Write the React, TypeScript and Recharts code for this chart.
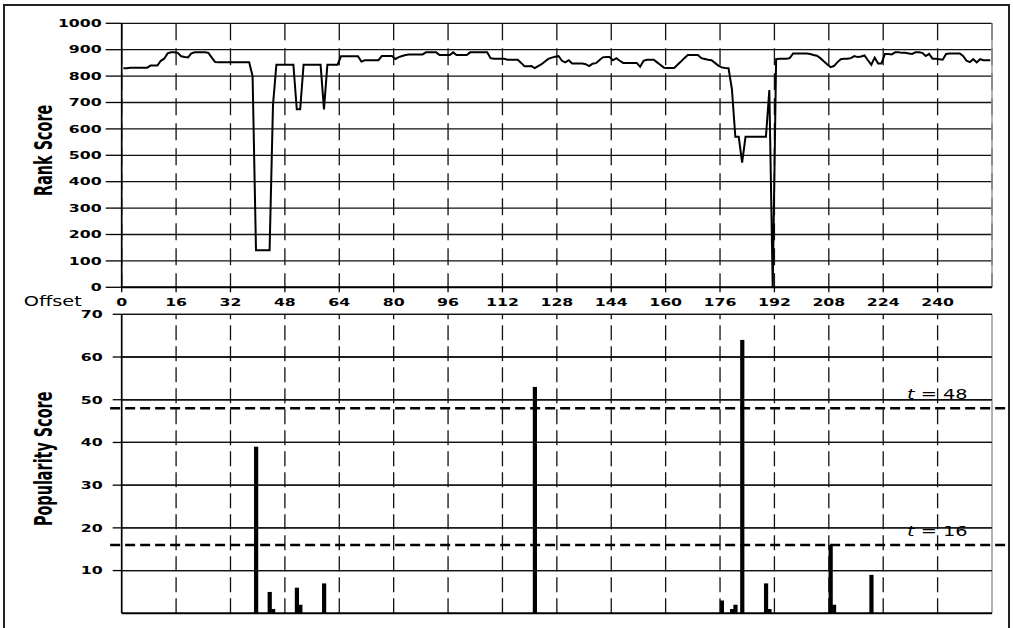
import React from "react";
import { LineChart, Line, ComposedChart, Bar, XAxis, YAxis, CartesianGrid, ReferenceLine } from "recharts";

const offsetTicks = [0, 16, 32, 48, 64, 80, 96, 112, 128, 144, 160, 176, 192, 208, 224, 240];
const rankTicks = [0, 100, 200, 300, 400, 500, 600, 700, 800, 900, 1000];
const popularityTicks = [10, 20, 30, 40, 50, 60, 70];
const popularityGrid = [10, 20, 30, 40, 50, 60, 70];
const thresholds = [48, 16];

// rank score per offset 0..255
const rankScore = [
  830, 830, 832, 832, 832, 832, 832, 832, 840, 840,
  840, 858, 866, 886, 890, 890, 888, 875, 872, 871,
  886, 890, 890, 890, 890, 888, 870, 853, 852, 852,
  852, 852, 852, 852, 852, 852, 852, 852, 800, 140,
  140, 140, 140, 140, 690, 843, 843, 843, 843, 843,
  843, 674, 674, 843, 843, 843, 843, 843, 843, 674,
  843, 843, 843, 843, 875, 875, 875, 875, 875, 875,
  855, 860, 860, 860, 860, 860, 876, 876, 876, 876,
  865, 872, 876, 880, 882, 882, 882, 882, 882, 890,
  890, 890, 890, 880, 880, 880, 880, 890, 880, 880,
  880, 880, 890, 890, 890, 890, 890, 890, 868, 866,
  866, 866, 866, 862, 862, 862, 862, 850, 837, 837,
  838, 830, 838, 845, 855, 865, 870, 873, 876, 858,
  852, 860, 848, 848, 848, 848, 845, 838, 847, 849,
  860, 871, 872, 872, 860, 868, 858, 850, 850, 850,
  850, 850, 835, 858, 862, 862, 862, 852, 842, 832,
  831, 831, 831, 843, 855, 868, 880, 880, 880, 880,
  868, 865, 862, 860, 850, 840, 833, 831, 830, 750,
  570, 570, 472, 570, 570, 570, 570, 570, 570, 570,
  747, 0, 864, 866, 866, 866, 868, 886, 886, 886,
  886, 886, 884, 880, 877, 868, 856, 845, 834, 838,
  852, 864, 866, 866, 868, 876, 872, 874, 878, 860,
  843, 870, 848, 848, 884, 884, 882, 890, 890, 888,
  888, 886, 884, 890, 890, 888, 876, 884, 866, 866,
  864, 862, 884, 886, 886, 886, 886, 876, 858, 853,
  864, 852, 864, 860, 860, 860,
];

const popularityOffsets = [39, 43, 44, 51, 52, 59, 121, 176, 179, 180, 182, 189, 190, 208, 209, 220];
const popularityScore = [39, 5, 1, 6, 2, 7, 53, 3, 1, 2, 64, 7, 1, 16, 2, 9];

// each offset sits in the middle of its slot, like the original spreadsheet plot
const rankRows = rankScore.map((score, i) => ({ x: i + 0.5, score }));
const popRows = popularityOffsets.map((o, i) => ({ x: o + 0.5, score: popularityScore[i] }));

const FONT = "'DejaVu Sans', Verdana, sans-serif";
const WIDE = 1.5;

function YTick(props: any) {
  const { x, y, payload } = props;
  return (
    <text transform={`translate(${x},${y}) scale(${WIDE},1)`} textAnchor="end" dy="0.36em"
      fontFamily={FONT} fontSize={10.5} fontWeight="bold" fill="#000">
      {payload.value}
    </text>
  );
}

function XTick(props: any) {
  const { x, y, payload } = props;
  return (
    <text transform={`translate(${x},${y}) scale(${WIDE},1)`} textAnchor="middle" dy="0.73em"
      fontFamily={FONT} fontSize={10.5} fontWeight="bold" fill="#000">
      {payload.value}
    </text>
  );
}

function NoTick() {
  return <g />;
}

function axisTitle(text: string) {
  return (p: any) => {
    const vb = p.viewBox;
    const cy = vb.y + vb.height / 2 - 5;
    return (
      <text transform={`translate(${43},${cy}) rotate(-90) scale(1,1.55)`} textAnchor="middle" dy="0.36em"
        fontFamily={FONT} fontStretch="condensed" fontSize={16} fontWeight="bold" fill="#000">
        {text}
      </text>
    );
  };
}

function offsetLabel(p: any) {
  const vb = p.viewBox;
  return (
    <text transform={`translate(${vb.x - 69},${vb.y + 18.5}) scale(1.38,1)`} textAnchor="middle"
      fontFamily={FONT} fontSize={14} fill="#000">
      Offset
    </text>
  );
}

function gridShape(p: any) {
  return (
    <g>
      <line x1={p.x1} y1={p.y1} x2={p.x2} y2={p.y2} stroke="#111" strokeWidth={1.3} />
    </g>
  );
}

function thresholdShape(t: number) {
  return (p: any) => (
    <g>
      <line x1={p.x1} y1={p.y1} x2={p.x2} y2={p.y2} stroke="#000" strokeWidth={2.5} strokeDasharray="10 5" />
      <text transform={`translate(${p.x2 - 101},${p.y1 - 9}) scale(1.38,1)`} fontFamily={FONT} fontSize={14} fill="#000">
        <tspan fontStyle="italic">t</tspan> = {t}
      </text>
    </g>
  );
}

function PopBar(p: any) {
  if (!p.height) return <g />;
  return <rect x={p.x + p.width / 2 - 2.1} y={p.y} width={4.2} height={p.height} fill="#000" />;
}

export default function App() {
  return (
    <div style={{ position: "relative", width: 1013, height: 628, overflow: "hidden", background: "#fff" }}>
      <style>{"body{margin:0}"}</style>
      <div style={{ position: "absolute", left: 3, top: 4, width: 1007, height: 700, border: "2px solid #222", boxSizing: "border-box" }} />

      <div style={{ position: "absolute", left: 0, top: 0 }}>
        <LineChart width={1013} height={312} data={rankRows} margin={{ top: 23.3, right: 21, bottom: 0, left: 0 }}>
          <CartesianGrid vertical={false} stroke="#111" strokeWidth={1.3} />
          <CartesianGrid horizontal={false} stroke="#111" strokeWidth={1.3} strokeDasharray="17 8" />
          <XAxis dataKey="x" type="number" domain={[0, 256]} ticks={offsetTicks} height={24.7}
            tick={<XTick />} tickSize={5} tickMargin={6} interval={0}
            axisLine={{ stroke: "#000", strokeWidth: 2 }} tickLine={{ stroke: "#000", strokeWidth: 1.3 }}
            label={offsetLabel} />
          <YAxis type="number" domain={[0, 1000]} ticks={rankTicks} width={121.7} interval={0}
            tick={<YTick />} tickSize={16} tickMargin={4}
            axisLine={{ stroke: "#000", strokeWidth: 1.7 }} tickLine={{ stroke: "#000", strokeWidth: 1.3 }}
            label={axisTitle("Rank Score")} />
          <ReferenceLine x={256} stroke="#9a9a9a" strokeWidth={1.5} />
          <Line type="linear" dataKey="score" stroke="#000" strokeWidth={2} dot={false} isAnimationActive={false} />
        </LineChart>
      </div>

      <div style={{ position: "absolute", left: 0, top: 300 }}>
        <ComposedChart width={1013} height={328} data={popRows} margin={{ top: 14.3, right: 21, bottom: 0, left: 0 }}>
          <CartesianGrid vertical={false} horizontalValues={popularityGrid} stroke="#111" strokeWidth={1.3} />
          {offsetTicks.slice(1).map((v) => (
            <ReferenceLine key={"v" + v} x={v} stroke="#111" strokeWidth={1.3} strokeDasharray="15 6" />
          ))}
          <XAxis dataKey="x" type="number" domain={[0, 256]} ticks={offsetTicks} height={14.7}
            tick={<NoTick />} tickLine={false} axisLine={{ stroke: "#000", strokeWidth: 2 }} />
          <YAxis type="number" domain={[0, 70]} ticks={[...popularityTicks]} width={121.7} interval={0}
            tick={<YTick />} tickSize={9} tickMargin={10}
            axisLine={{ stroke: "#000", strokeWidth: 1.7 }} tickLine={{ stroke: "#000", strokeWidth: 1.3 }}
            label={axisTitle("Popularity Score")} />
          <ReferenceLine x={256} stroke="#9a9a9a" strokeWidth={1.5} />
          <Bar dataKey="score" fill="#000" shape={<PopBar />} isAnimationActive={false} />
          {popularityGrid.map((v) => (
            <ReferenceLine key={"h" + v} segment={[{ x: 0, y: v }, { x: 256, y: v }]} ifOverflow="visible"
              shape={gridShape} />
          ))}
          {thresholds.map((t) => (
            <ReferenceLine key={t} segment={[{ x: -3.4, y: t }, { x: 260.7, y: t }]} ifOverflow="visible"
              shape={thresholdShape(t)} />
          ))}
        </ComposedChart>
      </div>
    </div>
  );
}
